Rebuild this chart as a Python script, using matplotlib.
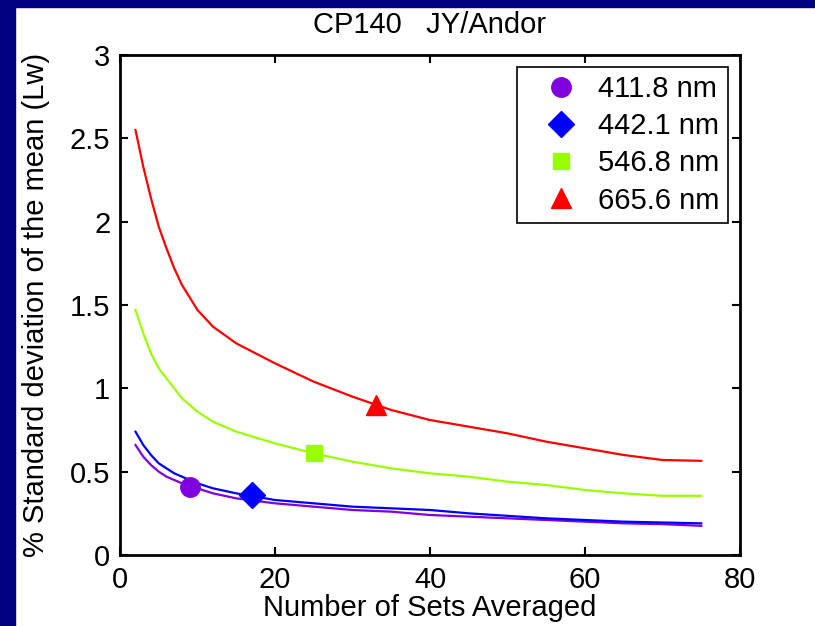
import matplotlib.pyplot as plt
from matplotlib.patches import Rectangle

plt.rcParams['font.family'] = ['Liberation Sans', 'DejaVu Sans']

# number of sets averaged
n_sets = [2, 3, 4, 5, 6, 7, 8, 10, 12, 15, 20, 25, 30, 35, 40, 45, 50, 55, 60, 65, 70, 75]

# % standard deviation of the mean, per wavelength
sd_411 = [0.66, 0.59, 0.54, 0.50, 0.47, 0.45, 0.43, 0.40, 0.37, 0.34, 0.31, 0.29, 0.27, 0.26, 0.24, 0.23, 0.22, 0.21, 0.20, 0.19, 0.185, 0.175]
sd_442 = [0.74, 0.66, 0.60, 0.55, 0.52, 0.49, 0.47, 0.43, 0.40, 0.37, 0.33, 0.31, 0.29, 0.28, 0.27, 0.25, 0.235, 0.22, 0.21, 0.20, 0.195, 0.19]
sd_546 = [1.47, 1.33, 1.21, 1.12, 1.06, 1.00, 0.94, 0.86, 0.80, 0.74, 0.67, 0.61, 0.56, 0.52, 0.49, 0.47, 0.44, 0.42, 0.39, 0.37, 0.355, 0.355]
sd_665 = [2.55, 2.33, 2.14, 1.97, 1.84, 1.72, 1.62, 1.47, 1.37, 1.27, 1.15, 1.04, 0.95, 0.87, 0.81, 0.77, 0.73, 0.68, 0.64, 0.60, 0.57, 0.565]

labels = ["411.8 nm", "442.1 nm", "546.8 nm", "665.6 nm"]
colors = ["#8000e0", "#0000ff", "#99ff00", "#ff0000"]
markers = ["o", "D", "s", "^"]
marker_x = [9, 17, 25, 33]
marker_y = [0.41, 0.36, 0.61, 0.90]

fig = plt.figure(figsize=(8.15, 6.26), dpi=100)
ax = fig.add_axes([120 / 815, 1 - 555 / 626, 620 / 815, 500 / 626])

series = [sd_411, sd_442, sd_546, sd_665]
msizes = [14, 13, 12, 15]
for i in range(len(series)):
    ax.plot(n_sets, series[i], color=colors[i], lw=1.6)
for i in range(len(series)):
    ax.plot(marker_x[i], marker_y[i], ls='none', marker=markers[i], color=colors[i],
            markersize=msizes[i], label=labels[i])

ax.set_xlim(0, 80)
ax.set_ylim(0, 3)
ax.set_xticks([0, 20, 40, 60, 80])
ax.set_yticks([0, 0.5, 1, 1.5, 2, 2.5, 3])
ax.set_yticklabels(["0", "0.5", "1", "1.5", "2", "2.5", "3"])
ax.tick_params(direction='in', length=6, width=1.5, top=True, right=True, labelsize=21)
ax.tick_params(axis='x', pad=8)
ax.tick_params(axis='y', pad=7)
for s in ax.spines.values():
    s.set_linewidth(2)

ax.set_xlabel("Number of Sets Averaged", fontsize=21, labelpad=0)
ax.set_ylabel("% Standard deviation of the mean (Lw)", fontsize=21, labelpad=14)
ax.set_title("CP140   JY/Andor", fontsize=21, pad=16)

leg = ax.legend(loc='upper right', fontsize=21, fancybox=False, framealpha=1, edgecolor='black',
                handletextpad=0.08, borderpad=0.3, labelspacing=0.31, handlelength=2.4,
                borderaxespad=0.4, numpoints=1)
leg.get_frame().set_linewidth(1.2)

# navy slide border
fig.patches.append(Rectangle((0, 0), 15 / 815, 1, transform=fig.transFigure, color='#000080'))
fig.patches.append(Rectangle((0, 1 - 7 / 626), 1, 7 / 626, transform=fig.transFigure, color='#000080'))

plt.savefig("out.png", dpi=100)
